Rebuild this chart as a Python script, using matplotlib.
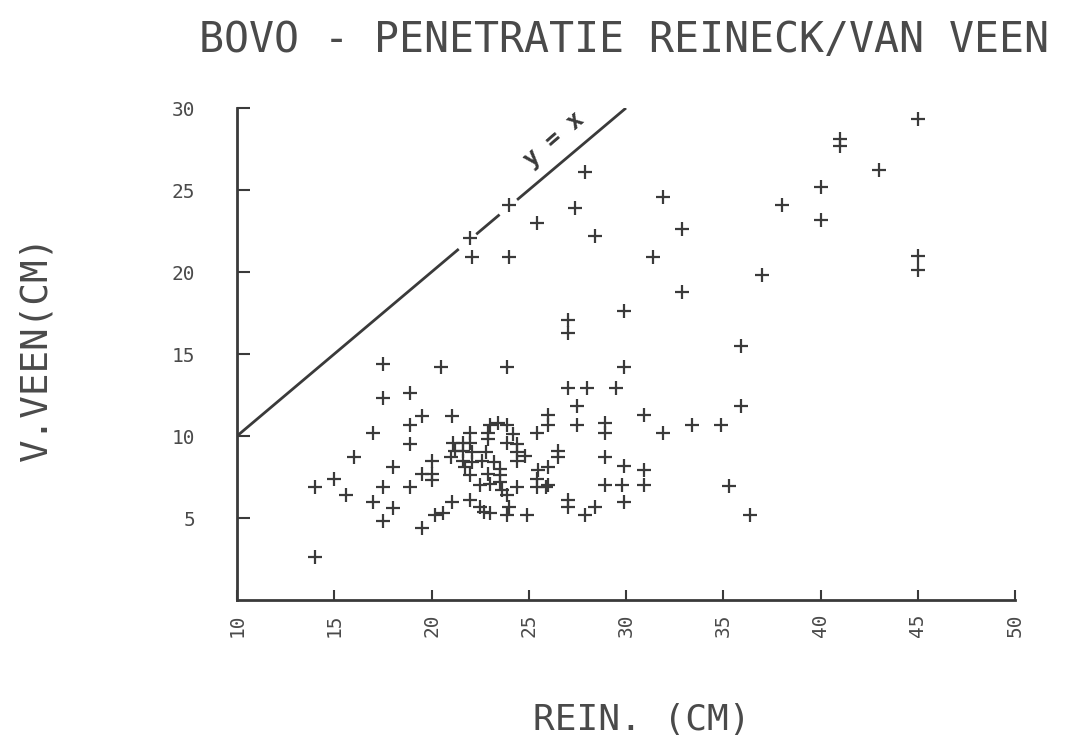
import matplotlib
matplotlib.use("Agg")
import matplotlib.pyplot as plt

# ---- data (REIN. cm, V.VEEN cm) ----
rein = [45, 41, 41, 43, 40, 38, 40, 45, 45, 37,
        22, 22.1, 24, 24, 25.4, 27.4, 27.9, 28.4, 31.9, 32.9, 31.4, 32.9, 29.9, 27, 27, 20.5, 23.9, 29.9,
        35.9, 35.9, 33.4, 34.9, 35.3, 36.4,
        27, 28, 29.5, 27.5, 26, 26, 27.5, 28.9, 28.9, 30.9, 31.9, 26.5, 26.5, 26, 28.9, 29.9, 30.9, 30.9,
        26, 28.9, 29.8, 29.9, 27, 27, 27.9, 28.4,
        17.5, 17.5, 18.9, 19.5, 18.9, 17, 18.9, 16, 18, 19.5, 14, 15, 15.6, 17.5, 18.9, 17, 18, 17.5, 19.5, 14,
        20, 20, 20, 20.2, 20.6, 21.05, 21.05,
        25.4, 23.0, 23.4, 23.9, 22.9, 22, 24.2, 21.1, 21.6, 22, 22.9, 23.9, 24.4, 21.2, 21.6, 22.1, 22.8,
        24.4, 24.8, 21, 21.6, 22.1, 22.6, 23.2, 24.4, 21.7, 23.5, 25.5, 22, 22.9, 23.5, 25.4, 22.5, 23,
        23.5, 24.4, 25.4, 25.9, 23.6, 23.9, 22, 22.5, 23, 22.7, 24, 23.9, 24.9]
veen = [29.3, 28.1, 27.7, 26.2, 25.2, 24.1, 23.2, 21.0, 20.1, 19.8,
        22.1, 20.9, 24.1, 20.9, 23.0, 23.9, 26.1, 22.2, 24.6, 22.6, 20.9, 18.8, 17.6, 17.1, 16.3, 14.2, 14.2, 14.2,
        15.5, 11.8, 10.7, 10.7, 6.95, 5.2,
        12.9, 12.9, 12.9, 11.8, 11.3, 10.7, 10.7, 10.8, 10.2, 11.3, 10.2, 9.1, 8.7, 8.1, 8.7, 8.2, 7.9, 7.0,
        7.0, 7.0, 7.0, 6.0, 6.1, 5.7, 5.2, 5.7,
        14.4, 12.3, 12.6, 11.2, 10.7, 10.2, 9.5, 8.7, 8.1, 7.7, 6.9, 7.4, 6.4, 6.9, 6.9, 6.0, 5.6, 4.8, 4.4, 2.6,
        8.5, 7.7, 7.3, 5.2, 5.3, 6.0, 11.2,
        10.2, 10.7, 10.8, 10.7, 10.2, 10.2, 10.1, 9.6, 9.6, 9.6, 9.8, 9.6, 9.5, 9.1, 9.1, 9.0, 9.0,
        9.0, 8.8, 8.7, 8.5, 8.4, 8.5, 8.4, 8.5, 8.1, 8.0, 7.9, 7.6, 7.7, 7.6, 7.4, 7.0, 7.1,
        7.2, 6.9, 6.9, 6.9, 6.7, 6.4, 6.1, 5.7, 5.3, 5.35, 5.7, 5.2, 5.2]

# y = x reference line, drawn in pieces (interrupted around markers as in the plot)
line_segments = [(10, 21.4), (22.3, 23.5), (24.4, 30)]

x_ticks = [10, 15, 20, 25, 30, 35, 40, 45, 50]
y_ticks = [5, 10, 15, 20, 25, 30]

title = "BOVO - PENETRATIE REINECK/VAN VEEN"
xlabel = "REIN. (CM)"
ylabel = "V.VEEN(CM)"

ink = "#3a3a3a"
text_ink = "#4a4a4a"
font = "DejaVu Sans Mono"

fig = plt.figure(figsize=(10.71, 7.35), dpi=100)
ax = fig.add_axes([237 / 1071, 135 / 735, 778 / 1071, 492 / 735])

ax.plot(rein, veen, linestyle="none", marker="+", markersize=10,
        markeredgewidth=1.6, color=ink)

for a, b in line_segments:
    ax.plot([a, b], [a, b], color=ink, linewidth=2.0, solid_capstyle="butt")

ax.text(26.3, 28.1, "y = x", rotation=41, rotation_mode="anchor",
        ha="center", va="center", fontsize=17, family=font, color=ink,
        fontweight="bold")

ax.set_xlim(10, 50)
ax.set_ylim(0, 30)
ax.set_xticks(x_ticks)
ax.set_yticks(y_ticks)
ax.set_xticklabels([str(v) for v in x_ticks], rotation=90, family=font, fontsize=14, color=text_ink)
ax.set_yticklabels([str(v) for v in y_ticks], family=font, fontsize=14, color=text_ink)
ax.tick_params(axis="x", direction="in", length=7, width=1.5, color=ink, pad=10)
ax.tick_params(axis="y", direction="in", length=9, width=1.5, color=ink, pad=30)

for s in ["top", "right"]:
    ax.spines[s].set_visible(False)
for s in ["left", "bottom"]:
    ax.spines[s].set_color(ink)
    ax.spines[s].set_linewidth(2.0)

fig.text(624 / 1071, 1 - 40 / 735, title, ha="center", va="center",
         family=font, fontsize=30, color=text_ink)
fig.text(642 / 1071, 1 - 720 / 735, xlabel, ha="center", va="center",
         family=font, fontsize=26, color=text_ink)
fig.text(36 / 1071, 1 - 348 / 735, ylabel, ha="center", va="center", rotation=90,
         family=font, fontsize=27, color=text_ink)

fig.savefig("out.png", dpi=100)
